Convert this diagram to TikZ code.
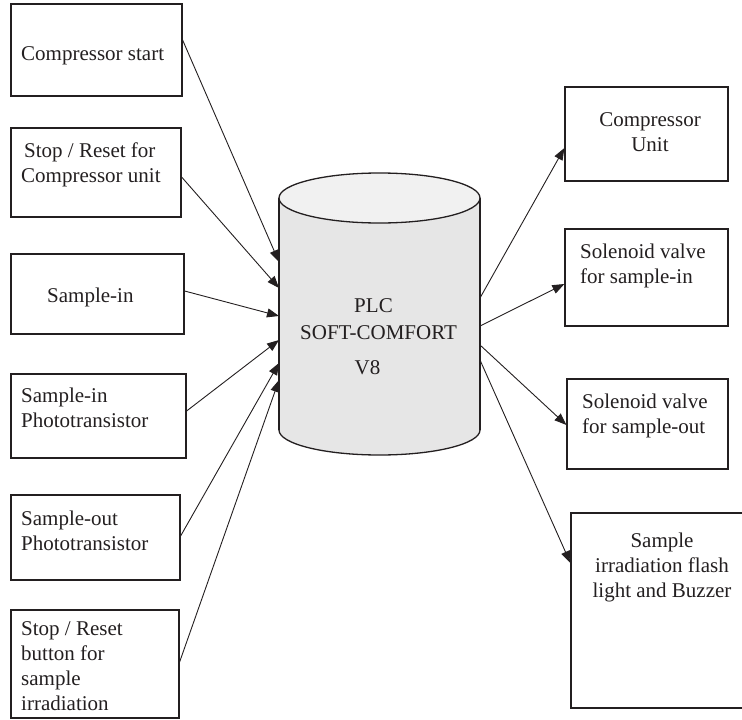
\documentclass[tikz,border=0pt]{standalone}
\usepackage{fontspec}
\setmainfont{Liberation Serif}
\usetikzlibrary{arrows.meta}
\definecolor{ink}{HTML}{231F20}
\definecolor{cylbody}{HTML}{E6E6E6}
\definecolor{cyltop}{HTML}{F1F1F1}
\begin{document}
\begin{tikzpicture}[x=1pt,y=-1pt,
  box/.style={draw=ink,line width=1.2pt,rectangle,inner sep=0pt},
  txt/.style={inner sep=0pt,font=\fontsize{21pt}{25pt}\selectfont,text=ink},
  arr/.style={draw=ink,line width=0.9pt,-{Triangle[length=12pt,width=9pt]}},
  cyl/.style={draw=ink,line width=1.3pt}]
\useasboundingbox (0,0) rectangle (742,720);
% cylinder
\fill[cylbody] (279,198) rectangle (480,430);
\fill[cylbody] (379.5,430) ellipse [x radius=100.5pt,y radius=25pt];
\begin{scope}
  \clip (260,430) rectangle (500,470);
  \draw[cyl] (379.5,430) ellipse [x radius=100.5pt,y radius=25pt];
\end{scope}
\draw[cyl] (279,198) -- (279,430);
\draw[cyl] (480,198) -- (480,430);
\filldraw[cyl,fill=cyltop] (379.5,198) ellipse [x radius=100.5pt,y radius=25pt];
\node[txt,anchor=base,align=center] (plc) at (378.5,374)
  {\hspace*{-10pt}PLC\\[2pt]SOFT-COMFORT\\[10pt]V8\hspace*{22pt}};
% cylinder connection points
\coordinate (in1) at (279,262);
\coordinate (in2) at (279,288);
\coordinate (in3) at (279,316);
\coordinate (in4) at (279,340);
\coordinate (in5) at (279,363);
\coordinate (in6) at (279,380);
\coordinate (out1) at (480,298);
\coordinate (out2) at (480,326);
\coordinate (out3) at (480,345);
\coordinate (out4) at (480,360);
% left boxes
\node[box,minimum width=171pt,minimum height=92pt] (b1) at (96.5,50) {};
\node[box,minimum width=170pt,minimum height=89pt] (b2) at (96,172.5) {};
\node[box,minimum width=173pt,minimum height=80pt] (b3) at (97.5,294) {};
\node[box,minimum width=175pt,minimum height=84pt] (b4) at (98.5,416) {};
\node[box,minimum width=169pt,minimum height=85pt] (b5) at (95.5,537.5) {};
\node[box,minimum width=168pt,minimum height=108pt] (b6) at (95,664) {};
\node[txt,anchor=base west] (t1) at (21,60) {Compressor start};
\node[txt,anchor=base west,align=left] (t2) at (21,182) {\hspace*{3pt}Stop / Reset for\\Compressor unit};
\node[txt,anchor=base west] (t3) at (47,302) {Sample-in};
\node[txt,anchor=base west,align=left] (t4) at (21,427) {Sample-in\\Phototransistor};
\node[txt,anchor=base west,align=left] (t5) at (21,550) {Sample-out\\Phototransistor};
\node[txt,anchor=base west,align=left] (t6) at (21,710) {Stop / Reset\\button for\\sample\\irradiation};
% right boxes
\node[box,minimum width=163pt,minimum height=94pt] (r1) at (646.5,134) {};
\node[box,minimum width=163pt,minimum height=97pt] (r2) at (646.5,277.5) {};
\node[box,minimum width=161pt,minimum height=90pt] (r3) at (647.5,424) {};
\node[box,minimum width=189pt,minimum height=195pt] (r4) at (665.5,610.5) {};
\node[txt,anchor=base,align=center] (u1) at (650,151) {Compressor\\Unit};
\node[txt,anchor=base west,align=left] (u2) at (580,283) {Solenoid valve\\for sample-in};
\node[txt,anchor=base west,align=left] (u3) at (582,433) {Solenoid valve\\for sample-out};
\node[txt,anchor=base,align=center] (u4) at (662,597) {Sample\\irradiation flash\\light and Buzzer};
% inputs
\draw[arr] ([yshift=10pt]b1.east) -- (in1);
\draw[arr] ([yshift=-4.5pt]b2.east) -- (in2);
\draw[arr] ([yshift=3pt]b3.east) -- (in3);
\draw[arr] ([yshift=5pt]b4.east) -- (in4);
\draw[arr] ([yshift=1.5pt]b5.east) -- (in5);
\draw[arr] ([yshift=2pt]b6.east) -- (in6);
% outputs
\draw[arr] (out1) -- ([yshift=-14pt]r1.west);
\draw[arr] (out2) -- ([yshift=-6.5pt]r2.west);
\draw[arr] (out3) -- ([yshift=-1pt]r3.west);
\draw[arr] (out4) -- ([yshift=47.5pt]r4.west);
\end{tikzpicture}
\end{document}
